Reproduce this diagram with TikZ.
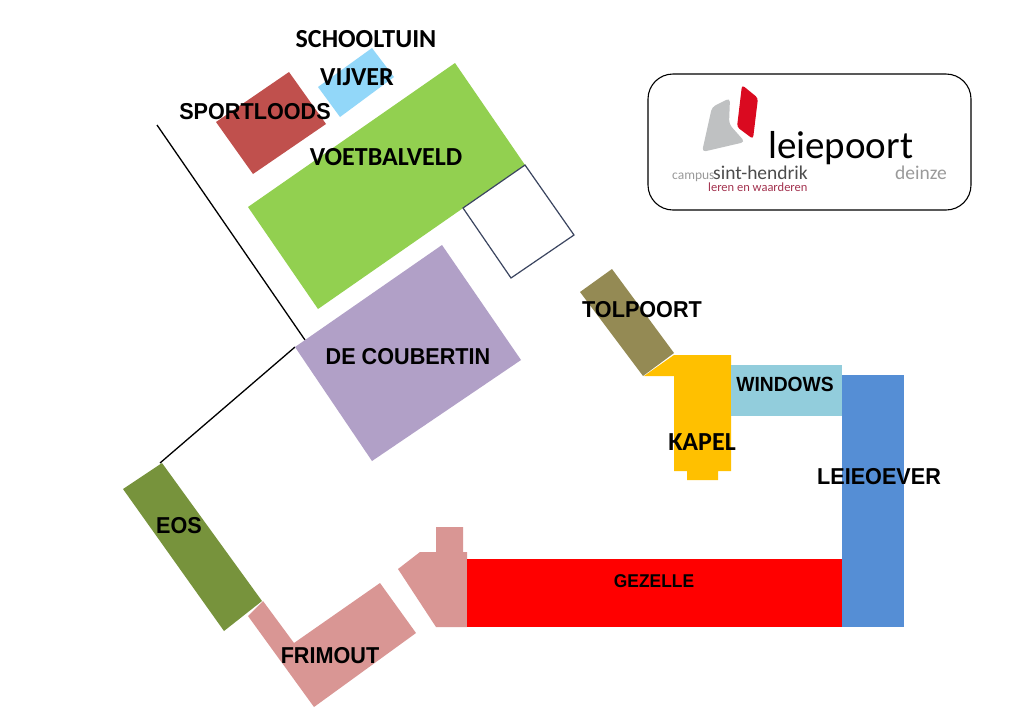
\documentclass[tikz,border=0pt]{standalone}
\usepackage{fontspec}
\setmainfont{Carlito}
\newfontfamily\arialfont[FakeStretch=0.94]{Liberation Sans}
\newfontfamily\logofont{Carlito}
\definecolor{sportloodsred}{HTML}{C0504D}
\definecolor{vijverblue}{HTML}{92D7F9}
\definecolor{veldgreen}{HTML}{92D050}
\definecolor{coubertinlila}{HTML}{B1A0C7}
\definecolor{tolpoortolive}{HTML}{948A54}
\definecolor{kapelyellow}{HTML}{FFC000}
\definecolor{windowsblue}{HTML}{92CDDC}
\definecolor{oeverblue}{HTML}{558ED5}
\definecolor{frimoutpink}{HTML}{D99694}
\definecolor{eosgreen}{HTML}{77933C}
\definecolor{veldoutline}{HTML}{3B4560}
\definecolor{logogray}{HTML}{BFC1C2}
\definecolor{logored}{HTML}{DA0A20}
\definecolor{logowine}{HTML}{A3324F}
\definecolor{logotext}{HTML}{9A9A9A}
\tikzset{
  calibrilabel/.style={font=\fontsize{26}{26}\selectfont\bfseries, text=black, inner sep=0pt},
  ariallabel/.style={font=\fontsize{23}{23}\selectfont\arialfont\bfseries, text=black, inner sep=0pt},
  logolabel/.style={inner sep=0pt, anchor=base west}
}

\begin{document}
\begin{tikzpicture}[x=1pt,y=-1pt]

  \useasboundingbox (0,0) rectangle (1024,724);

  \fill[white] (0,0) rectangle (1024,724);

  % lines along the site
  \draw[black, line width=1.3pt] (157,125) -- (305,340);
  \draw[black, line width=1.3pt] (295,347) -- (160,463);

  % sports side
  \fill[sportloodsred] (289,72) -- (326,124) -- (253,174) -- (216,122) -- cycle;
  \fill[vijverblue] (372,48) -- (394,77) -- (340,117) -- (318,87) -- cycle;
  \fill[veldgreen] (455,63) -- (525,165) -- (318,309) -- (248,207) -- cycle;
  \draw[veldoutline, line width=1.2pt, fill=white] (525,165) -- (574,235) -- (511,278) -- (463,208) -- cycle;
  \fill[coubertinlila] (442,245) -- (521,360) -- (372,461) -- (295,347) -- cycle;

  % main buildings
  \fill[kapelyellow] (674,355) -- (731,355) -- (731,471) -- (718,471) -- (718,480) -- (687,480)
    -- (687,471) -- (674,471) -- (674,376) -- (644,376) -- cycle;
  \fill[tolpoortolive] (612,269) -- (674,353) -- (643,376) -- (580,292) -- cycle;
  \fill[windowsblue] (731,365) rectangle (842,416);
  \fill[oeverblue] (842,375) rectangle (904,627);
  \fill[frimoutpink] (467,552) -- (463,552) -- (463,527) -- (436,527) -- (436,552) -- (420,552)
    -- (398,569) -- (436,627) -- (467,627) -- cycle;
  \fill[red] (467,559) rectangle (842,627);

  \fill[frimoutpink] (263,601) -- (294,643) -- (380,583) -- (416,633) -- (314,707) -- (248,616) -- cycle;
  \fill[eosgreen] (162,463) -- (262,601) -- (224,631) -- (123,489) -- cycle;

  % labels
  \node[calibrilabel] (schooltuin) at (366,39) {SCHOOLTUIN};
  \node[calibrilabel] (vijver) at (357,77) {VIJVER};
  \node[ariallabel] (sportloods) at (255,112) {SPORTLOODS};
  \node[calibrilabel] (voetbalveld) at (386,157) {VOETBALVELD};
  \node[ariallabel] (coubertin) at (408,357) {DE COUBERTIN};
  \node[ariallabel] (tolpoort) at (642,310) {TOLPOORT};
  \node[ariallabel, font=\fontsize{20.5}{20.5}\selectfont\arialfont\bfseries] (windows) at (785,384) {WINDOWS};
  \node[calibrilabel] (kapel) at (702,442) {KAPEL};
  \node[ariallabel] (leieoever) at (879,477) {LEIEOEVER};
  \node[ariallabel, font=\fontsize{18.5}{18.5}\selectfont\arialfont\bfseries] (gezelle) at (654,581) {GEZELLE};
  \node[ariallabel] (eos) at (179,526) {EOS};
  \node[ariallabel] (frimout) at (330,656) {FRIMOUT};

  % logo card
  \draw[black, line width=1.1pt, fill=white, rounded corners=25pt] (648,74) rectangle (971,210);
  \fill[logogray, rounded corners=4pt] (730,98) -- (712,107) -- (702,152) -- (745,142) -- (729,124) -- cycle;
  \fill[logored, rounded corners=3pt] (742,85) -- (758,98) -- (753,139) -- (737,127) -- cycle;
  \node[logolabel, font=\fontsize{39}{39}\selectfont\logofont, text=black] (leiepoort) at (768,158) {leiepoort};
  \node[logolabel, font=\fontsize{13.5}{13.5}\selectfont\logofont, text=logotext] (campus) at (672,179) {campus};
  \node[logolabel, font=\fontsize{19.5}{19.5}\selectfont\logofont, text=black!70] (sinthendrik) at (713,179) {sint-hendrik};
  \node[logolabel, font=\fontsize{12.5}{12.5}\selectfont\logofont, text=logowine] (waarderen) at (708,191) {leren en waarderen};
  \node[logolabel, font=\fontsize{19.5}{19.5}\selectfont\logofont, text=logotext] (deinze) at (895,179) {deinze};

\end{tikzpicture}
\end{document}
